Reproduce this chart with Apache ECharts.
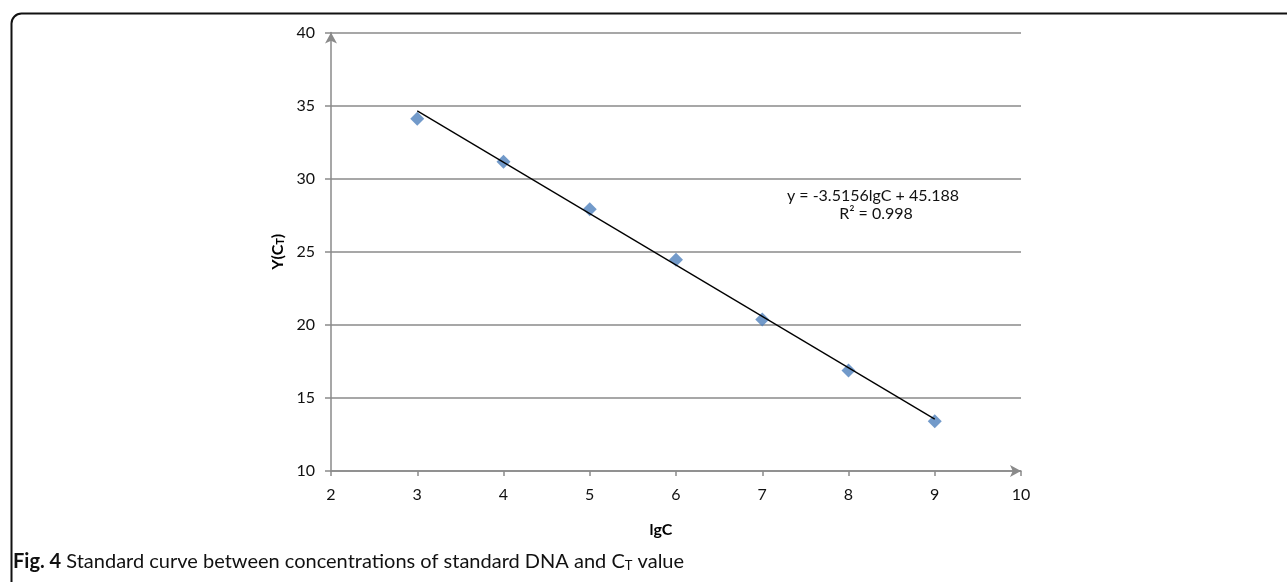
<!DOCTYPE html>
<html>
<head>
<meta charset="utf-8">
<script src="https://cdn.jsdelivr.net/npm/echarts@6/dist/echarts.min.js"></script>
<style>
html,body{margin:0;padding:0;background:#fff;}
#chart{width:1287px;height:582px;}
</style>
</head>
<body>
<div id="chart"></div>
<script>
// Data
const lgC = [3, 4, 5, 6, 7, 8, 9];
const ctValues = [34.1, 31.16, 27.9, 24.46, 20.36, 16.87, 13.4];
// Trend line endpoints (from y = -3.5156lgC + 45.188)
const trendX = [3, 9];
const trendY = [34.64, 13.55];
const xTicks = [2, 3, 4, 5, 6, 7, 8, 9, 10];
const yTicks = [10, 15, 20, 25, 30, 35, 40];
const equationText = 'y = -3.5156lgC + 45.188';
const r2Text = 'R² = 0.998';

const FONT = 'Lato, "Open Sans", sans-serif';
const chart = echarts.init(document.getElementById('chart'), null, {renderer: 'canvas'});

const points = lgC.map((x, i) => [x, ctValues[i]]);
const trend = trendX.map((x, i) => [x, trendY[i]]);

chart.setOption({
  animation: false,
  backgroundColor: '#fff',
  grid: {left: 331, right: 266, top: 32.5, bottom: 111, containLabel: false},
  xAxis: {
    type: 'value',
    min: xTicks[0], max: xTicks[xTicks.length - 1], interval: 1,
    name: 'lgC', nameLocation: 'middle', nameGap: 51,
    nameTextStyle: {fontFamily: FONT, fontSize: 16, fontWeight: 'bold', color: '#000', padding: [0, 30, 0, 0]},
    axisLine: {show: true, lineStyle: {color: '#8a8a8a', width: 1.5}, symbol: ['none', 'arrow'], symbolSize: [9, 11], symbolOffset: [0, 0]},
    axisTick: {show: true, length: 5, lineStyle: {color: '#8a8a8a', width: 1.5}},
    axisLabel: {fontFamily: FONT, fontSize: 16, color: '#111', margin: 16},
    splitLine: {show: false}
  },
  yAxis: {
    type: 'value',
    min: yTicks[0], max: yTicks[yTicks.length - 1], interval: 5,
    name: '{a|Y(C}{s|T}{a|)}', nameLocation: 'middle', nameGap: 23, nameRotate: 90,
    nameTextStyle: {
      fontFamily: FONT, fontWeight: 'bold', color: '#000',
      rich: {
        a: {fontFamily: FONT, fontSize: 16, fontWeight: 'bold', color: '#000', verticalAlign: 'bottom', lineHeight: 19},
        s: {fontFamily: FONT, fontSize: 11, fontWeight: 'bold', color: '#000', verticalAlign: 'bottom', lineHeight: 13, padding: [6, 0, 0, 0]}
      }
    },
    axisLine: {show: true, lineStyle: {color: '#8a8a8a', width: 1.5}, symbol: ['none', 'arrow'], symbolSize: [9, 11]},
    axisTick: {show: true, length: 6, lineStyle: {color: '#8a8a8a', width: 1.5}},
    axisLabel: {fontFamily: FONT, fontSize: 16, color: '#111', margin: 16},
    splitLine: {show: true, lineStyle: {color: '#8a8a8a', width: 1.5}}
  },
  series: [
    {
      type: 'line',
      data: trend,
      symbol: 'none',
      lineStyle: {color: '#000', width: 1.3},
      z: 3
    },
    {
      type: 'scatter',
      data: points,
      symbol: 'diamond',
      symbolSize: 14,
      itemStyle: {color: '#4f81bd'},
      z: 2
    }
  ],
  graphic: [
    {
      type: 'rect', left: 9, top: 11,
      shape: {width: 1300, height: 600, r: 10},
      style: {fill: 'none', stroke: '#111', lineWidth: 2},
      silent: true, z: 100
    },
    {
      type: 'text', x: 873, y: 196,
      style: {text: equationText, font: '16px ' + FONT, fill: '#111', align: 'center', verticalAlign: 'middle'}
    },
    {
      type: 'text', x: 876, y: 214,
      style: {text: r2Text, font: '16px ' + FONT, fill: '#111', align: 'center', verticalAlign: 'middle'}
    },
    {
      type: 'text', x: 13, y: 560,
      style: {
        text: '{b|Fig. 4}{n| Standard curve between concentrations of standard DNA and C}{s|T}{n| value}',
        verticalAlign: 'middle',
        rich: {
          b: {fontFamily: FONT, fontSize: 20, fontWeight: 'bold', fill: '#111', verticalAlign: 'bottom', lineHeight: 24},
          n: {fontFamily: FONT, fontSize: 20, fill: '#111', verticalAlign: 'bottom', lineHeight: 24},
          s: {fontFamily: FONT, fontSize: 13, fill: '#111', verticalAlign: 'bottom', lineHeight: 17, padding: [6, 0, 0, 0]}
        }
      }
    }
  ]
});
</script>
</body>
</html>
